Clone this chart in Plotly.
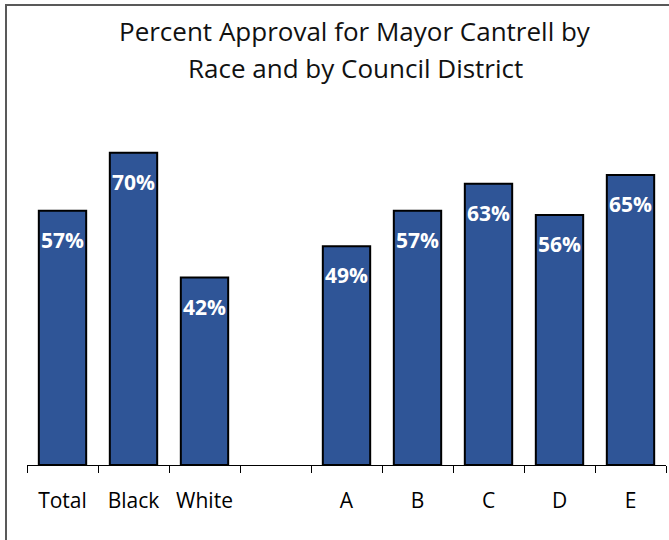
import plotly.graph_objects as go

categories = ["Total", "Black", "White", " ", "A", "B", "C", "D", "E"]
values = [0.57, 0.70, 0.42, None, 0.49, 0.57, 0.63, 0.56, 0.65]
labels = ["57%", "70%", "42%", "", "49%", "57%", "63%", "56%", "65%"]
title_lines = ["Percent Approval for Mayor Cantrell by", "Race and by Council District"]

W, H = 669, 540
L, R, T, B = 27, 3, 108, 75
FONT = "Open Sans"
BAR = "#2F5597"

fig = go.Figure()
fig.add_trace(go.Bar(
    x=categories, y=values,
    marker=dict(color=BAR, line=dict(color="black", width=2)),
    width=0.667, hoverinfo="skip",
))

for c, v, t in zip(categories, values, labels):
    if v is None:
        continue
    fig.add_annotation(x=c, y=v, text=f"<b>{t}</b>", showarrow=False,
                       yanchor="middle", yshift=-29,
                       font=dict(family=FONT, size=21, color="white"))

# pixel -> paper helpers
pw, ph = W - L - R, H - T - B
def px_x(p): return (p - L) / pw
def px_y(p): return (H - B - p) / ph

for line, ypix in zip(title_lines, [31, 68]):
    fig.add_annotation(xref="paper", yref="paper", x=px_x(355), y=px_y(ypix),
                       text=line, showarrow=False, xanchor="center", yanchor="middle",
                       font=dict(family=FONT, size=26, color="#111111"))

# outer chart border
fig.add_shape(type="rect", xref="paper", yref="paper",
              x0=px_x(6), x1=px_x(W + 10), y0=px_y(H + 10), y1=px_y(5),
              line=dict(color="#595959", width=2), fillcolor="rgba(0,0,0,0)")

fig.update_layout(
    width=W, height=H,
    margin=dict(l=L, r=R, t=T, b=B),
    paper_bgcolor="white", plot_bgcolor="white",
    showlegend=False,
    font=dict(family=FONT),
)
fig.update_xaxes(type="category", showline=True, linecolor="black", linewidth=1,
                 ticks="outside", ticklen=7, tickcolor="black",
                 tickson="boundaries", range=[-0.5, 8.5],
                 ticklabelstandoff=17,
                 tickfont=dict(family=FONT, size=21, color="black"),
                 showgrid=False, zeroline=False)
fig.update_yaxes(range=[0, 0.8], visible=False, showgrid=False)

fig.write_html("out.html", config={"displayModeBar": False},
               post_script="document.body.style.margin='0';")
